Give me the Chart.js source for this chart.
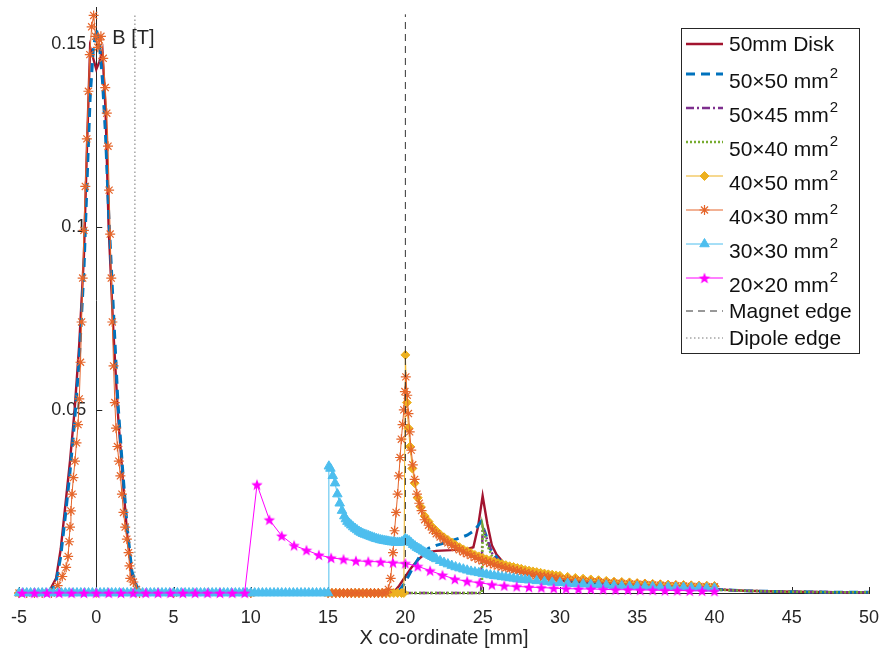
<!DOCTYPE html>
<html>
<head>
<meta charset="utf-8">
<title>B field along X</title>
<script src="https://cdn.jsdelivr.net/npm/chart.js"></script>
<style>
  html, body { margin: 0; padding: 0; background: #ffffff; }
  #wrap { position: relative; width: 885px; height: 652px; }
</style>
</head>
<body>
<div id="wrap"><canvas id="chart"></canvas></div>
<script>
// Axis ticks
const xTickValues = [-5, 0, 5, 10, 15, 20, 25, 30, 35, 40, 45, 50];
const yTickValues = [0.05, 0.1, 0.15];

// Series labels (legend order)
const seriesLabels = ['50mm Disk', '50×50 mm²', '50×45 mm²', '50×40 mm²', '40×50 mm²',
  '40×30 mm²', '30×30 mm²', '20×20 mm²', 'Magnet edge', 'Dipole edge'];

// [x mm, B T]
const diskPts = [[-5,0],[-4,0],[-3.1,0],[-2.6,0.004],[-2.3,0.012],[-2.0,0.024],[-1.7,0.036],[-1.4,0.05],
  [-1.1,0.068],[-0.8,0.092],[-0.6,0.122],[-0.4,0.149],[-0.2,0.146],[0,0.143],[0.2,0.145],[0.4,0.148],
  [0.6,0.132],[0.8,0.1],[1.1,0.072],[1.4,0.049],[1.7,0.032],[2.0,0.016],[2.3,0.005],[2.6,0.002],[2.9,0],
  [5,0],[10,0],[15,0],[19.2,0],[19.6,0.002],[20.0,0.0045],[20.4,0.007],[20.8,0.009],[21.2,0.0105],
  [21.6,0.0112],[22,0.0115],[23,0.0117],[24,0.012],[24.4,0.0125],[24.7,0.018],[25.0,0.0265],[25.3,0.019],
  [25.6,0.013],[25.9,0.0105],[26.3,0.0085],[26.8,0.007],[27.5,0.0057],[28.5,0.0045],[30,0.0034],
  [32,0.0026],[34,0.002],[36,0.0016],[38,0.0013],[40,0.001],[42,0.0006],[44,0.0004],[46,0.0003],
  [48,0.0002],[50,0.0002]];

const sq5050Pts = [[-5,0],[-3.0,0],[-2.6,0.003],[-2.3,0.01],[-2.0,0.021],[-1.7,0.033],[-1.4,0.047],
  [-1.1,0.064],[-0.8,0.088],[-0.6,0.112],[-0.4,0.135],[-0.2,0.148],[0,0.154],[0.2,0.15],[0.4,0.14],
  [0.6,0.125],[0.8,0.104],[1.1,0.078],[1.4,0.052],[1.7,0.034],[2.0,0.018],[2.3,0.006],[2.6,0.002],
  [2.9,0],[10,0],[19.5,0],[20,0.003],[20.5,0.007],[21,0.0105],[21.5,0.0122],[22,0.013],[22.5,0.0136],
  [23,0.0143],[23.5,0.015],[24,0.0158],[24.5,0.0172],[24.9,0.0195],[25.2,0.016],[25.5,0.012],
  [26,0.0092],[26.5,0.0078],[27,0.0068],[28,0.0053],[29,0.0043],[30,0.0036],[32,0.0027],[34,0.0021],
  [36,0.0017],[38,0.0013],[40,0.001],[42,0.0006],[44,0.0004],[46,0.0003],[48,0.0002],[50,0.0002]];

const sq5045Pts = [[-5,0],[10,0],[20,0],[24.9,0],[25,0.018],[25.3,0.0145],[25.7,0.0098],[26.2,0.0082],
  [27,0.0067],[28,0.0054],[29,0.0045],[30,0.0038],[32,0.0029],[34,0.0022],[36,0.0017],[38,0.0013],
  [40,0.001],[42,0.0006],[44,0.0004],[46,0.0003],[48,0.0002],[50,0.0002]];

const sq5040Pts = [[-5,0],[10,0],[20,0],[24.95,0],[25,0.0183],[25.3,0.013],[25.7,0.0092],[26.2,0.0077],
  [27,0.0063],[28,0.0051],[29,0.0042],[30,0.0035],[32,0.0027],[34,0.0021],[36,0.0016],[38,0.0012],
  [40,0.0009],[42,0.0006],[44,0.0004],[46,0.0003],[48,0.0002],[50,0.0002]];

const sq4050Pts = [[-5,0],[0,0],[5,0],[10,0],[15,0],[15.25,0],[15.5,0],[15.75,0],[16,0],[16.25,0],
  [16.5,0],[16.75,0],[17,0],[17.25,0],[17.5,0],[17.75,0],[18,0],[18.25,0],[18.5,0],[18.75,0],[19,0],
  [19.25,0],[19.5,0],[19.75,0],[19.9,0],[20.0,0.065],[20.1,0.052],[20.2,0.045],[20.3,0.04],[20.45,0.034],
  [20.6,0.03],[20.8,0.026],[21,0.0235],[21.25,0.021],[21.5,0.0195],[21.75,0.018],[22,0.017],
  [22.25,0.016],[22.5,0.0152],[22.75,0.0145],[23,0.0138],[23.25,0.0131],[23.5,0.0125],[23.75,0.0119],
  [24,0.0114],[24.25,0.0109],[24.5,0.0104],[24.75,0.01],[25,0.0096],[25.25,0.0092],[25.5,0.0089],
  [25.75,0.0085],[26,0.0082],[26.25,0.0079],[26.5,0.0076],[26.75,0.0073],[27,0.0071],[27.25,0.0068],
  [27.5,0.0066],[27.75,0.0063],[28,0.0061],[28.25,0.0059],[28.5,0.0057],[28.75,0.0055],[29,0.0053],
  [29.25,0.0051],[29.5,0.005],[29.75,0.0048],[30,0.0047],[30.5,0.0044],[31,0.0041],[31.5,0.0039],
  [32,0.0037],[32.5,0.0035],[33,0.0033],[33.5,0.0031],[34,0.003],[34.5,0.0029],[35,0.0027],
  [35.5,0.0026],[36,0.0025],[36.5,0.0024],[37,0.0023],[37.5,0.0022],[38,0.0022],[38.5,0.0021],
  [39,0.002],[39.5,0.002],[40,0.0019]];

const sq4030Pts = [[-5,0],[-4.5,0],[-4,0],[-3.5,0],[-2.9,0],[-2.5,0.002],[-2.2,0.0045],[-1.95,0.007],
  [-1.82,0.01],[-1.76,0.014],[-1.7,0.018],[-1.64,0.0224],[-1.57,0.027],[-1.48,0.0315],[-1.38,0.036],
  [-1.28,0.041],[-1.18,0.046],[-1.1,0.053],[-1.02,0.063],[-0.95,0.074],[-0.88,0.086],[-0.8,0.099],
  [-0.71,0.111],[-0.61,0.124],[-0.51,0.137],[-0.42,0.147],[-0.3,0.1546],[-0.17,0.1577],[-0.05,0.152],
  [0.1,0.149],[0.2,0.151],[0.3,0.152],[0.45,0.146],[0.58,0.138],[0.68,0.131],[0.76,0.122],[0.83,0.11],
  [0.9,0.098],[0.97,0.086],[1.04,0.074],[1.12,0.062],[1.2,0.052],[1.28,0.045],[1.37,0.04],[1.46,0.036],
  [1.56,0.032],[1.66,0.027],[1.76,0.022],[1.87,0.018],[1.98,0.0147],[2.09,0.011],[2.15,0.0074],
  [2.2,0.004],[2.4,0.003],[2.6,0.001],[2.8,0],[5,0],[10,0],[15,0],[15.25,0],[15.5,0],[15.75,0],
  [16,0],[16.25,0],[16.5,0],[16.75,0],[17,0],[17.25,0],[17.5,0],[17.75,0],[18,0],[18.25,0],[18.5,0],
  [18.75,0],[18.9,0.001],[19.05,0.004],[19.2,0.011],[19.3,0.017],[19.4,0.022],[19.5,0.027],
  [19.58,0.032],[19.66,0.037],[19.74,0.042],[19.82,0.046],[19.9,0.05],[19.97,0.055],[20.03,0.059],
  [20.12,0.054],[20.2,0.049],[20.28,0.044],[20.38,0.039],[20.48,0.035],[20.6,0.031],[20.75,0.027],
  [20.9,0.0245],[21.05,0.0225],[21.25,0.02],[21.5,0.0185],[21.75,0.0172],[22,0.0162],[22.25,0.0153],
  [22.5,0.0145],[22.75,0.0137],[23,0.013],[23.25,0.0124],[23.5,0.0118],[23.75,0.0112],[24,0.0107],
  [24.25,0.0102],[24.5,0.0097],[24.75,0.0092],[25,0.0088],[25.25,0.0084],[25.5,0.0081],[25.75,0.0077],
  [26,0.0074],[26.25,0.0071],[26.5,0.0068],[26.75,0.0065],[27,0.0062],[27.25,0.006],[27.5,0.0057],
  [27.75,0.0055],[28,0.0052],[28.25,0.005],[28.5,0.0048],[28.75,0.0046],[29,0.0045],[29.25,0.0043],
  [29.5,0.0042],[29.75,0.004],[30,0.0039],[30.5,0.0037],[31,0.0035],[31.5,0.0033],[32,0.0031],
  [32.5,0.003],[33,0.0028],[33.5,0.0027],[34,0.0026],[34.5,0.0025],[35,0.0024],[35.5,0.0023],
  [36,0.0022],[36.5,0.0021],[37,0.002],[37.5,0.002],[38,0.0019],[38.5,0.0018],[39,0.0018],
  [39.5,0.0017],[40,0.0017]];

const sq3030Pts = [[-5,0],[-4.75,0],[-4.5,0],[-4.25,0],[-4,0],[-3.75,0],[-3.5,0],[-3.25,0],[-3,0],
  [-2.75,0],[-2.5,0],[-2.25,0],[-2,0],[-1.75,0],[-1.5,0],[-1.25,0],[-1,0],[-0.75,0],[-0.5,0],[-0.25,0],
  [0,0],[0.25,0],[0.5,0],[0.75,0],[1,0],[1.25,0],[1.5,0],[1.75,0],[2,0],[2.25,0],[2.5,0],[2.75,0],
  [3,0],[3.25,0],[3.5,0],[3.75,0],[4,0],[4.25,0],[4.5,0],[4.75,0],[5,0],[5.25,0],[5.5,0],[5.75,0],
  [6,0],[6.25,0],[6.5,0],[6.75,0],[7,0],[7.25,0],[7.5,0],[7.75,0],[8,0],[8.25,0],[8.5,0],[8.75,0],
  [9,0],[9.25,0],[9.5,0],[9.75,0],[10,0],[10.25,0],[10.5,0],[10.75,0],[11,0],[11.25,0],[11.5,0],
  [11.75,0],[12,0],[12.25,0],[12.5,0],[12.75,0],[13,0],[13.25,0],[13.5,0],[13.75,0],[14,0],[14.25,0],
  [14.5,0],[14.75,0],[15,0],[15.05,0.0346],[15.15,0.034],[15.3,0.032],[15.45,0.03],[15.6,0.027],
  [15.75,0.0245],[15.9,0.0225],[16.05,0.021],[16.15,0.0202],[16.25,0.0195],[16.375,0.019],[16.5,0.0185],
  [16.625,0.018],[16.75,0.0176],[16.875,0.0172],[17,0.0168],[17.125,0.0165],[17.25,0.0162],
  [17.375,0.016],[17.5,0.0158],[17.625,0.0156],[17.75,0.0154],[17.875,0.0152],[18,0.015],
  [18.125,0.0148],[18.25,0.0147],[18.375,0.0145],[18.5,0.0144],[18.625,0.0143],[18.75,0.0142],
  [18.875,0.0141],[19,0.014],[19.125,0.0139],[19.25,0.0139],[19.375,0.0138],[19.5,0.0138],
  [19.625,0.0138],[19.75,0.0139],[19.875,0.0142],[20,0.0148],[20.125,0.0145],[20.25,0.0142],
  [20.375,0.0137],[20.5,0.0132],[20.625,0.0128],[20.75,0.0124],[20.875,0.0121],[21,0.0118],
  [21.125,0.0114],[21.25,0.0111],[21.375,0.0108],[21.5,0.0105],[21.625,0.0102],[21.75,0.0099],
  [21.875,0.0096],[22,0.0093],[22.25,0.0088],[22.5,0.0083],[22.75,0.0079],[23,0.0075],[23.25,0.0071],
  [23.5,0.0068],[23.75,0.0065],[24,0.0062],[24.25,0.0059],[24.5,0.0057],[24.75,0.0055],[25,0.0053],
  [25.25,0.0051],[25.5,0.0049],[25.75,0.0047],[26,0.0046],[26.25,0.0044],[26.5,0.0043],[26.75,0.0041],
  [27,0.004],[27.25,0.0038],[27.5,0.0037],[27.75,0.0036],[28,0.0035],[28.5,0.0033],[29,0.0031],
  [29.5,0.0029],[30,0.0028],[30.5,0.0026],[31,0.0025],[31.5,0.0024],[32,0.0023],[32.5,0.0022],
  [33,0.0021],[33.5,0.002],[34,0.0019],[34.5,0.0018],[35,0.0018],[35.5,0.0017],[36,0.0017],
  [36.5,0.0016],[37,0.0016],[37.5,0.0015],[38,0.0015],[38.5,0.0014],[39,0.0014],[39.5,0.0013],
  [40,0.0013]];

const sq2020Pts = [[-4.8,0],[-4,0],[-3.2,0],[-2.4,0],[-1.6,0],[-0.8,0],[0,0],[0.8,0],[1.6,0],[2.4,0],
  [3.2,0],[4,0],[4.8,0],[5.6,0],[6.4,0],[7.2,0],[8,0],[8.8,0],[9.6,0],[10.4,0.0296],[11.2,0.02],
  [12.0,0.0156],[12.8,0.013],[13.6,0.0117],[14.4,0.0104],[15.2,0.0096],[16.0,0.0092],[16.8,0.0088],
  [17.6,0.0086],[18.4,0.0085],[19.2,0.0083],[20.0,0.0081],[20.8,0.0073],[21.6,0.0061],[22.4,0.0049],
  [23.2,0.0038],[24.0,0.0032],[24.8,0.0028],[25.6,0.0023],[26.4,0.002],[27.2,0.0018],[28.0,0.0016],
  [28.8,0.0015],[29.6,0.0013],[30.4,0.0012],[31.2,0.0011],[32.0,0.0011],[32.8,0.001],[33.6,0.0009],
  [34.4,0.0009],[35.2,0.0008],[36.0,0.0008],[36.8,0.0007],[37.6,0.0007],[38.4,0.0006],[39.2,0.0006],
  [40.0,0.0005]];

const magnetEdgePts = [[20,0],[20,0.158]];
const dipoleEdgePts = [[2.5,0],[2.5,0.158]];

const FONT = "'Liberation Sans', Arial, Helvetica, sans-serif";
const AXIS_COLOR = '#262626';

function pts(arr) {
  return arr.map(p => ({ x: p[0], y: p[1] }));
}

// filled pentagram marker (no such pointStyle in Chart.js)
function makeStar(r, color) {
  const c = document.createElement('canvas');
  const s = Math.ceil(r * 2) + 2;
  c.width = s;
  c.height = s;
  const g = c.getContext('2d');
  g.beginPath();
  for (let i = 0; i < 10; i++) {
    const rad = i % 2 ? r * 0.42 : r;
    const a = -Math.PI / 2 + i * Math.PI / 5;
    const px = s / 2 + rad * Math.cos(a);
    const py = s / 2 + rad * Math.sin(a) + 0.6;
    if (i === 0) g.moveTo(px, py); else g.lineTo(px, py);
  }
  g.closePath();
  g.fillStyle = color;
  g.fill();
  return c;
}

function lineSet(i, data, color, width, dash) {
  return {
    label: seriesLabels[i], data: pts(data), borderColor: color, backgroundColor: color,
    borderWidth: width, borderDash: dash, pointRadius: 0, pointHoverRadius: 0,
    tension: 0, clip: false, order: 10 - i
  };
}

function markerSet(i, data, color, style, radius, borderWidth) {
  return {
    label: seriesLabels[i], data: pts(data), borderColor: color, backgroundColor: color,
    borderWidth: 1, borderDash: [], pointStyle: style, pointRadius: radius, pointHoverRadius: radius,
    pointBackgroundColor: color, pointBorderColor: color, pointBorderWidth: borderWidth,
    tension: 0, clip: false, order: 10 - i
  };
}

const datasets = [
  lineSet(0, diskPts, '#A2142F', 2.4, []),
  lineSet(1, sq5050Pts, '#0072BD', 3, [9, 6]),
  lineSet(2, sq5045Pts, '#7E2F8E', 2.5, [8, 3, 2, 3]),
  lineSet(3, sq5040Pts, '#77AC30', 2.5, [2, 2]),
  markerSet(4, sq4050Pts, '#EDB120', 'rectRot', 4.5, 1),
  markerSet(5, sq4030Pts, '#E5652A', 'star', 5, 1.2),
  markerSet(6, sq3030Pts, '#4DBEEE', 'triangle', 5.5, 1),
  markerSet(7, sq2020Pts, '#FF00FF', makeStar(6, '#FF00FF'), 6, 1),
  lineSet(8, magnetEdgePts, '#333333', 1, [7, 5]),
  lineSet(9, dipoleEdgePts, '#777777', 1, [1.5, 2.5])
];

// inward tick marks and the "B [T]" axis label
const axisDecor = {
  id: 'axisDecor',
  beforeDatasetsDraw(chart) {
    const { ctx, scales: { x, y }, chartArea } = chart;
    const x0 = x.getPixelForValue(0);
    const y0 = y.getPixelForValue(0);
    ctx.save();
    ctx.strokeStyle = AXIS_COLOR;
    ctx.lineWidth = 1;
    ctx.beginPath();
    xTickValues.forEach(v => {
      const px = Math.round(x.getPixelForValue(v)) + 0.5;
      ctx.moveTo(px, y0);
      ctx.lineTo(px, y0 - 6);
    });
    yTickValues.forEach(v => {
      const py = Math.round(y.getPixelForValue(v)) + 0.5;
      ctx.moveTo(x0, py);
      ctx.lineTo(x0 + 6, py);
    });
    ctx.stroke();
    ctx.fillStyle = AXIS_COLOR;
    ctx.font = '20px ' + FONT;
    ctx.textAlign = 'left';
    ctx.textBaseline = 'middle';
    ctx.fillText('B [T]', x0 + 16, chartArea.top + 31);
    ctx.restore();
  }
};

// MATLAB-style boxed legend inside the axes (north-east)
const boxLegend = {
  id: 'boxLegend',
  afterDraw(chart) {
    const ctx = chart.ctx;
    const rowY = [45, 82, 116, 150, 184, 218, 252, 286, 312, 339];
    const left = 681.5, top = 28.5, right = 859.5, bottom = 353.5;
    ctx.save();
    ctx.fillStyle = '#ffffff';
    ctx.fillRect(left, top, right - left, bottom - top);
    ctx.strokeStyle = '#262626';
    ctx.lineWidth = 1;
    ctx.strokeRect(left, top, right - left, bottom - top);
    chart.data.datasets.forEach((ds, i) => {
      const sup = ds.label.endsWith('²');
      const cy = rowY[i];
      const ly = sup ? cy - 8 : cy - 1;
      ctx.save();
      ctx.strokeStyle = ds.borderColor;
      ctx.lineWidth = ds.borderWidth;
      ctx.setLineDash(ds.borderDash || []);
      ctx.beginPath();
      ctx.moveTo(686, ly);
      ctx.lineTo(723, ly);
      ctx.stroke();
      ctx.restore();
      if (ds.pointRadius > 0) {
        ctx.save();
        ctx.fillStyle = ds.pointBackgroundColor;
        ctx.strokeStyle = ds.pointBorderColor;
        ctx.lineWidth = ds.pointBorderWidth;
        Chart.helpers.drawPoint(ctx, {
          pointStyle: ds.pointStyle, radius: ds.pointRadius,
          borderWidth: ds.pointBorderWidth, rotation: 0
        }, 704.5, ly);
        ctx.restore();
      }
      const text = sup ? ds.label.slice(0, -1) : ds.label;
      ctx.fillStyle = '#111111';
      ctx.font = '21px ' + FONT;
      ctx.textAlign = 'left';
      ctx.textBaseline = 'middle';
      ctx.fillText(text, 729, cy);
      if (sup) {
        const w = ctx.measureText(text).width;
        ctx.font = '15px ' + FONT;
        ctx.fillText('2', 729 + w + 1, ly);
      }
    });
    ctx.restore();
  }
};

new Chart(document.getElementById('chart'), {
  type: 'line',
  data: { datasets: datasets },
  plugins: [axisDecor, boxLegend],
  options: {
    responsive: true,
    maintainAspectRatio: false,
    animation: false,
    events: [],
    // axes sit on the origin, so they take no layout room: the padding sets the plot box
    layout: { padding: { left: 19, right: 16, top: 6, bottom: 59 } },
    plugins: {
      legend: { display: false },
      tooltip: { enabled: false },
      title: { display: false }
    },
    scales: {
      x: {
        type: 'linear',
        min: -5,
        max: 50,
        position: { y: 0 },
        afterBuildTicks: s => { s.ticks = xTickValues.map(v => ({ value: v })); },
        afterFit: s => { s.height = 59; s.paddingLeft = 0; s.paddingRight = 0; },
        grid: { display: false, drawTicks: false },
        border: { display: true, color: AXIS_COLOR, width: 1 },
        ticks: {
          autoSkip: false, maxRotation: 0, color: AXIS_COLOR,
          font: { family: FONT, size: 18, lineHeight: 2.4 },
          callback: v => String(v)
        },
        title: {
          display: true, text: 'X co-ordinate [mm]', color: AXIS_COLOR,
          font: { family: FONT, size: 20 }, padding: { top: 0, bottom: 2 }
        }
      },
      y: {
        type: 'linear',
        min: 0,
        max: 0.16,
        position: { x: 0 },
        afterBuildTicks: s => { s.ticks = yTickValues.map(v => ({ value: v })); },
        afterFit: s => { s.width = 0; s.paddingTop = 0; s.paddingBottom = 0; },
        grid: { display: false, drawTicks: false },
        border: { display: true, color: AXIS_COLOR, width: 1 },
        ticks: {
          color: AXIS_COLOR,
          font: { family: FONT, size: 18 },
          callback: v => String(v) + '  '
        }
      }
    }
  }
});
</script>
</body>
</html>
